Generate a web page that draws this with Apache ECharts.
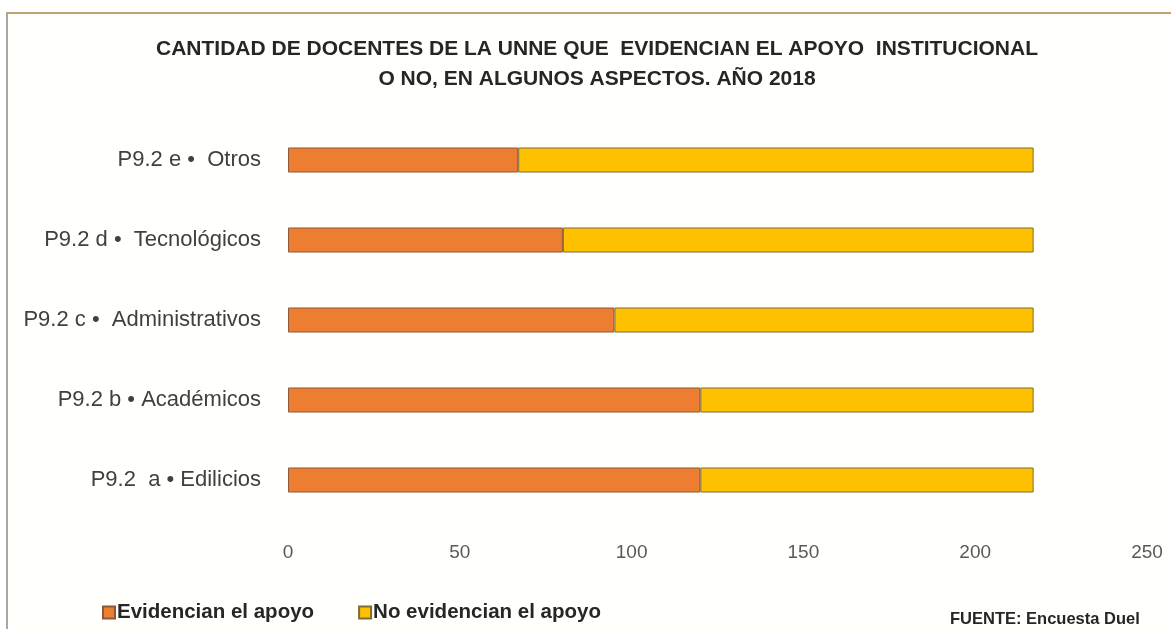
<!DOCTYPE html>
<html><head><meta charset="utf-8">
<script src="https://cdn.jsdelivr.net/npm/echarts@6/dist/echarts.min.js"></script>
<style>
html,body{margin:0;padding:0;background:#fff;}
#frame{position:absolute;left:6px;top:12px;width:1165px;height:617px;border-top:2px solid #c4a06c;border-left:2px solid #a8a8a8;box-sizing:border-box;background:#fffffc;}
#chart{position:absolute;left:0;top:0;width:1171px;height:629px;}
</style></head>
<body>
<div id="frame"></div>
<div id="chart"></div>
<script>
const categories = ['P9.2  a • Edilicios','P9.2 b • Académicos','P9.2 c •  Administrativos','P9.2 d •  Tecnológicos','P9.2 e •  Otros'];
const evidencian = [120, 120, 95, 80, 67];
const noEvidencian = [97, 97, 122, 137, 150];
const xTicks = {min: 0, max: 250, interval: 50};
const seriesNames = ['Evidencian el apoyo', 'No evidencian el apoyo'];

const FONT = '"Liberation Sans",Arial,sans-serif';
const chart = echarts.init(document.getElementById('chart'), null, {renderer: 'canvas'});
chart.setOption({
  animation: false,
  backgroundColor: 'transparent',
  title: {
    text: 'CANTIDAD DE DOCENTES DE LA UNNE QUE  EVIDENCIAN EL APOYO  INSTITUCIONAL\nO NO, EN ALGUNOS ASPECTOS. AÑO 2018',
    left: 592, top: 29, textAlign: 'center',
    textStyle: {fontFamily: FONT, fontWeight: 'bold', fontSize: 21, color: '#262626', lineHeight: 30}
  },
  legend: {
    left: 97, top: 597, itemWidth: 12, itemHeight: 12, itemGap: 44,
    icon: 'rect',
    textStyle: {fontFamily: FONT, fontWeight: 'bold', fontSize: 20.5, color: '#262626', padding: [0,0,0,-3]},
    data: seriesNames
  },
  graphic: [{
    type: 'text', left: 950, top: 611,
    style: {text: 'FUENTE: Encuesta Duel', fontFamily: FONT, fontWeight: 'bold', fontSize: 16.5, fill: '#262626'}
  }],
  grid: {left: 288, right: 24, top: 120, height: 400},
  xAxis: {
    type: 'value', min: xTicks.min, max: xTicks.max, interval: xTicks.interval,
    axisLine: {show: false}, axisTick: {show: false},
    splitLine: {show: false},
    axisLabel: {fontFamily: FONT, fontSize: 19, color: '#595959', margin: 23}
  },
  yAxis: {
    type: 'category', data: categories,
    axisLine: {show: false}, axisTick: {show: false},
    axisLabel: {fontFamily: FONT, fontSize: 22, color: '#404040', margin: 27}
  },
  series: [
    {name: seriesNames[0], type: 'bar', stack: 't', barWidth: 25, data: evidencian,
     itemStyle: {color: '#ED7D31', borderColor: '#8a5a3a', borderWidth: 1}},
    {name: seriesNames[1], type: 'bar', stack: 't', barWidth: 25, data: noEvidencian,
     itemStyle: {color: '#FFC000', borderColor: '#7f6a3a', borderWidth: 1}}
  ]
});
</script>
</body></html>
